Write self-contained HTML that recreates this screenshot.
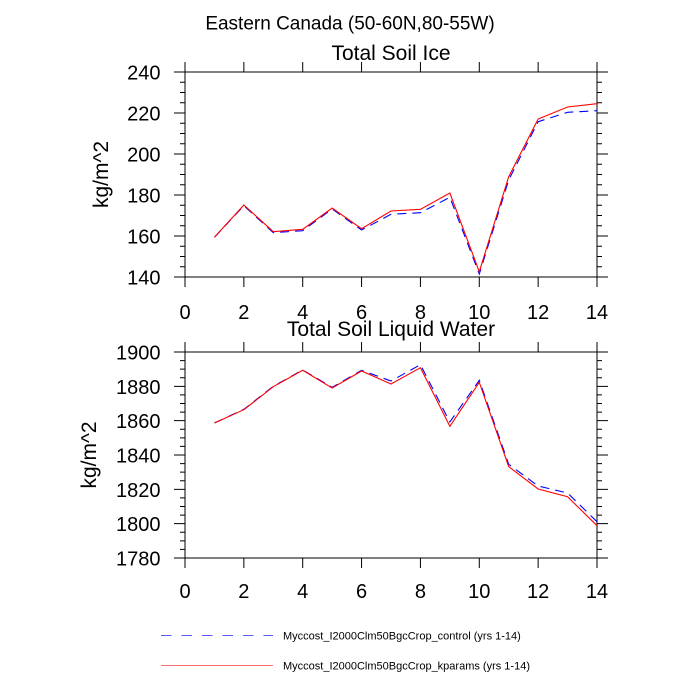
<!DOCTYPE html>
<html><head><meta charset="utf-8"><style>
html,body{margin:0;padding:0;background:#fff;}
svg{display:block;}
text{font-family:"Liberation Sans",sans-serif;fill:#000;}
</style></head><body>
<svg width="700" height="700" viewBox="0 0 700 700" xmlns="http://www.w3.org/2000/svg">
<rect width="700" height="700" fill="#fff"/>
<text x="350" y="29.5" font-size="19" text-anchor="middle">Eastern Canada (50-60N,80-55W)</text>

<!-- TOP PANEL -->
<text x="391" y="60" font-size="21" text-anchor="middle">Total Soil Ice</text>
<g stroke="#000" stroke-width="1" fill="none">
<rect x="185" y="72" width="412" height="205"/>
<path d="M185 72V62M243.86 72V62M302.71 72V62M361.57 72V62M420.43 72V62M479.29 72V62M538.14 72V62M597 72V62
M185 277V287M243.86 277V287M302.71 277V287M361.57 277V287M420.43 277V287M479.29 277V287M538.14 277V287M597 277V287
M174 72H185M174 113H185M174 154H185M174 195H185M174 236H185M174 277H185
M597 72H608M597 113H608M597 154H608M597 195H608M597 236H608M597 277H608
M180 82.25H185M180 92.5H185M180 102.75H185M180 123.25H185M180 133.5H185M180 143.75H185M180 164.25H185M180 174.5H185M180 184.75H185M180 205.25H185M180 215.5H185M180 225.75H185M180 246.25H185M180 256.5H185M180 266.75H185
M597 82.25H602M597 92.5H602M597 102.75H602M597 123.25H602M597 133.5H602M597 143.75H602M597 164.25H602M597 174.5H602M597 184.75H602M597 205.25H602M597 215.5H602M597 225.75H602M597 246.25H602M597 256.5H602M597 266.75H602"/>
</g>
<g font-size="20" text-anchor="end">
<text x="160.5" y="79.5">240</text>
<text x="160.5" y="120.5">220</text>
<text x="160.5" y="161.5">200</text>
<text x="160.5" y="202.5">180</text>
<text x="160.5" y="243.5">160</text>
<text x="160.5" y="284.5">140</text>
</g>
<g font-size="20" text-anchor="middle">
<text x="185" y="319">0</text>
<text x="243.86" y="319">2</text>
<text x="302.71" y="319">4</text>
<text x="361.57" y="319">6</text>
<text x="420.43" y="319">8</text>
<text x="479.29" y="319">10</text>
<text x="538.14" y="319">12</text>
<text x="597" y="319">14</text>
</g>
<text transform="translate(108,174.5) rotate(-90)" font-size="21" text-anchor="middle">kg/m^2</text>
<polyline fill="none" stroke="#0000ff" stroke-width="1.1" stroke-dasharray="9 6" points="214.43,237.3 243.86,205.7 273.29,232.7 302.71,230.7 332.14,209 361.57,230 391,214.3 420.43,212.7 449.86,197.3 479.29,274 508.71,180 538.14,121.7 567.57,112.3 597,110.7"/>
<polyline fill="none" stroke="#ff0000" stroke-width="1.1" points="214.43,237.3 243.86,205 273.29,231.7 302.71,229.3 332.14,208 361.57,228.7 391,211 420.43,209.3 449.86,193 479.29,271.7 508.71,176.7 538.14,119 567.57,107 597,103.7"/>

<!-- BOTTOM PANEL -->
<text x="391" y="336" font-size="21" text-anchor="middle">Total Soil Liquid Water</text>
<g stroke="#000" stroke-width="1" fill="none">
<rect x="185" y="352" width="412" height="206"/>
<path d="M185 352V342M243.86 352V342M302.71 352V342M361.57 352V342M420.43 352V342M479.29 352V342M538.14 352V342M597 352V342
M185 558V568M243.86 558V568M302.71 558V568M361.57 558V568M420.43 558V568M479.29 558V568M538.14 558V568M597 558V568
M174 352H185M174 386.33H185M174 420.67H185M174 455H185M174 489.33H185M174 523.67H185M174 558H185
M597 352H608M597 386.33H608M597 420.67H608M597 455H608M597 489.33H608M597 523.67H608M597 558H608
M180 360.58H185M180 369.17H185M180 377.75H185M180 394.92H185M180 403.5H185M180 412.08H185M180 429.25H185M180 437.83H185M180 446.42H185M180 463.58H185M180 472.17H185M180 480.75H185M180 497.92H185M180 506.5H185M180 515.08H185M180 532.25H185M180 540.83H185M180 549.42H185
M597 360.58H602M597 369.17H602M597 377.75H602M597 394.92H602M597 403.5H602M597 412.08H602M597 429.25H602M597 437.83H602M597 446.42H602M597 463.58H602M597 472.17H602M597 480.75H602M597 497.92H602M597 506.5H602M597 515.08H602M597 532.25H602M597 540.83H602M597 549.42H602"/>
</g>
<g font-size="20" text-anchor="end">
<text x="160.5" y="359.5">1900</text>
<text x="160.5" y="393.8">1880</text>
<text x="160.5" y="428.2">1860</text>
<text x="160.5" y="462.5">1840</text>
<text x="160.5" y="496.8">1820</text>
<text x="160.5" y="531.2">1800</text>
<text x="160.5" y="565.5">1780</text>
</g>
<g font-size="20" text-anchor="middle">
<text x="185" y="598">0</text>
<text x="243.86" y="598">2</text>
<text x="302.71" y="598">4</text>
<text x="361.57" y="598">6</text>
<text x="420.43" y="598">8</text>
<text x="479.29" y="598">10</text>
<text x="538.14" y="598">12</text>
<text x="597" y="598">14</text>
</g>
<text transform="translate(96,455) rotate(-90)" font-size="21" text-anchor="middle">kg/m^2</text>
<polyline fill="none" stroke="#0000ff" stroke-width="1.1" stroke-dasharray="9 6" points="214.43,423 243.86,409.3 273.29,386.3 302.71,370 332.14,387.3 361.57,370.3 391,381 420.43,364.7 449.86,422 479.29,380.3 508.71,464.3 538.14,486 567.57,493 597,521.7"/>
<polyline fill="none" stroke="#ff0000" stroke-width="1.1" points="214.43,423 243.86,409.7 273.29,386.7 302.71,370.3 332.14,388 361.57,371 391,384 420.43,367.7 449.86,426.3 479.29,382.3 508.71,466.7 538.14,489 567.57,496.7 597,525.7"/>

<!-- LEGEND -->
<line x1="161" y1="635.5" x2="273" y2="635.5" stroke="#5a5aff" stroke-width="1" stroke-dasharray="10.5 10"/>
<text x="283" y="639.5" font-size="11">Myccost_I2000Clm50BgcCrop_control (yrs 1-14)</text>
<line x1="161" y1="665.5" x2="273" y2="665.5" stroke="#ff7070" stroke-width="1"/>
<text x="283" y="669.5" font-size="11">Myccost_I2000Clm50BgcCrop_kparams (yrs 1-14)</text>
</svg>
</body></html>
